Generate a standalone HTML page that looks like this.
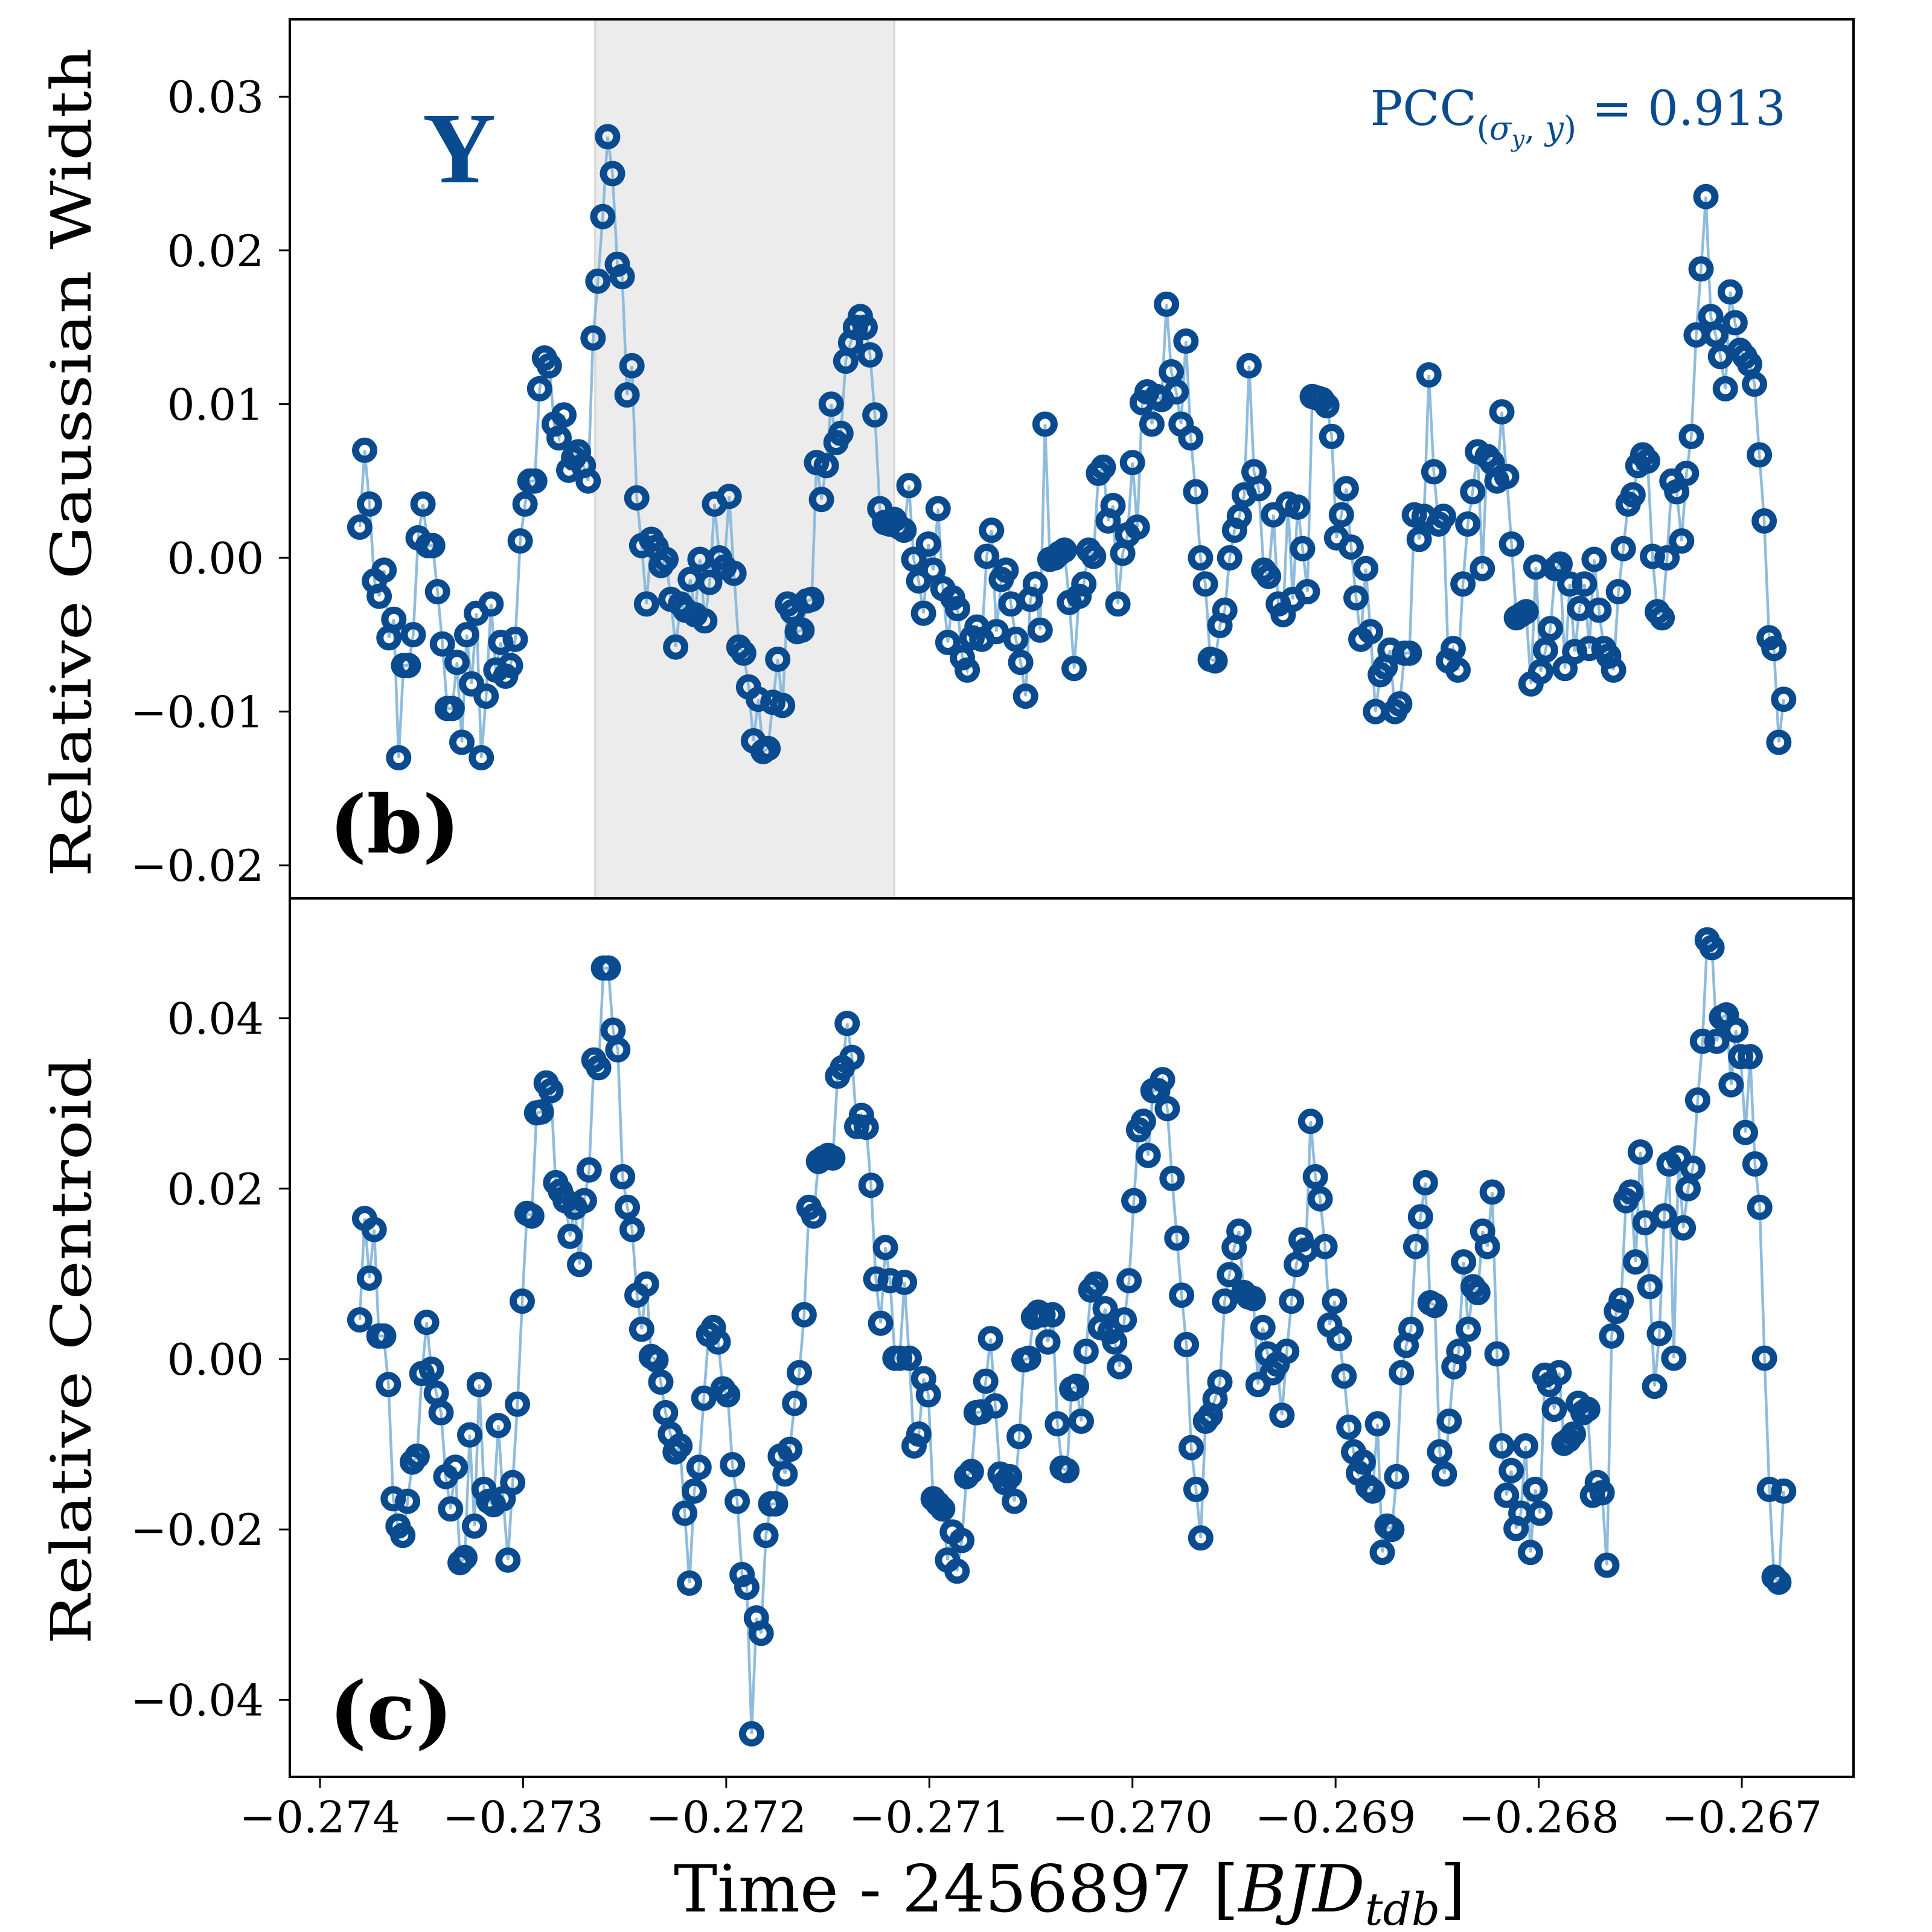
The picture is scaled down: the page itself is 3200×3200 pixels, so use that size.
<!DOCTYPE html>
<html><head><meta charset="utf-8"><style>
html,body{margin:0;padding:0;background:#fff}
svg{display:block}
text{font-family:"DejaVu Serif","Liberation Serif",serif}
</style></head><body>
<svg id="chart" width="3200" height="3200" viewBox="0 0 3200 3200" xmlns="http://www.w3.org/2000/svg">
<rect width="3200" height="3200" fill="#fff"/>
<rect x="986" y="32" width="495" height="1456" fill="#ececec" stroke="#dcdcdc" stroke-width="4"/>
<g id="top-series"></g>
<g id="bot-series"></g>
<rect x="480" y="32" width="2590" height="1456" fill="none" stroke="#000" stroke-width="4"/>
<rect x="480" y="1488" width="2590" height="1455" fill="none" stroke="#000" stroke-width="4"/>
<g id="axes"></g>
<text transform="translate(150,766) rotate(-90)" text-anchor="middle" font-size="92" textLength="1373" lengthAdjust="spacingAndGlyphs">Relative Gaussian Width</text>
<text transform="translate(150,2237) rotate(-90)" text-anchor="middle" font-size="92" textLength="973" lengthAdjust="spacingAndGlyphs">Relative Centroid</text>
<text x="1116" y="3166" font-size="108">Time - 2456897 [<tspan font-style="italic">BJD</tspan><tspan font-style="italic" font-size="74" dy="22">tdb</tspan><tspan dy="-22">]</tspan></text>
<text x="545" y="1412" font-size="132" font-weight="bold">(b)</text>
<text x="545" y="2880" font-size="132" font-weight="bold">(c)</text>
<text x="700" y="302" font-size="168" font-weight="bold" fill="#0a4a8f" style="font-family:'Liberation Serif',serif">Y</text>
<text x="2958" y="207" text-anchor="end" font-size="80" fill="#0a4a8f">PCC<tspan font-size="54" dy="24">(<tspan font-style="italic">σ</tspan><tspan font-size="38" font-style="italic" dy="12">y</tspan><tspan dy="-12">, </tspan><tspan font-style="italic">y</tspan>)</tspan><tspan dy="-24"> = 0.913</tspan></text>
</svg>
<script>
const tStart = -0.273804, tEnd = -0.266794;
const xTicks = [-0.274,-0.273,-0.272,-0.271,-0.270,-0.269,-0.268,-0.267];
const xTickLabels = ["−0.274","−0.273","−0.272","−0.271","−0.270","−0.269","−0.268","−0.267"];
const topTicks = [0.03,0.02,0.01,0.00,-0.01,-0.02];
const topTickLabels = ["0.03","0.02","0.01","0.00","−0.01","−0.02"];
const botTicks = [0.04,0.02,0.00,-0.02,-0.04];
const botTickLabels = ["0.04","0.02","0.00","−0.02","−0.04"];
const widthValues = [0.002,0.007,0.0035,-0.0015,-0.0025,-0.0008,-0.0052,-0.004,-0.013,-0.007,-0.007,-0.005,0.0013,0.0035,0.0008,0.0008,-0.0022,-0.0056,-0.0098,-0.0098,-0.0068,-0.012,-0.005,-0.0082,-0.0036,-0.013,-0.009,-0.003,-0.0073,-0.0055,-0.0077,-0.007,-0.0053,0.0011,0.0035,0.005,0.005,0.011,0.013,0.0125,0.0087,0.0078,0.0093,0.0057,0.0065,0.0069,0.006,0.005,0.0143,0.018,0.0222,0.0274,0.025,0.0191,0.0183,0.0106,0.0125,0.0039,0.0008,-0.003,0.0012,0.0007,-0.0005,-0.0001,-0.0027,-0.0058,-0.003,-0.0034,-0.0014,-0.0037,-0.0001,-0.0041,-0.0016,0.0035,0,-0.0006,0.004,-0.001,-0.0058,-0.0062,-0.0084,-0.0119,-0.0092,-0.0126,-0.0124,-0.0094,-0.0066,-0.0096,-0.003,-0.0035,-0.0048,-0.0047,-0.0028,-0.0027,0.0062,0.0038,0.006,0.01,0.0075,0.0081,0.0128,0.014,0.015,0.0157,0.015,0.0132,0.0093,0.0032,0.0023,0.0022,0.0025,0.002,0.0018,0.0047,-0.0001,-0.0015,-0.0036,0.0009,-0.0008,0.0032,-0.002,-0.0055,-0.0026,-0.0033,-0.0065,-0.0073,-0.0052,-0.0045,-0.0053,0.0001,0.0018,-0.0048,-0.0014,-0.0008,-0.003,-0.0053,-0.0068,-0.009,-0.0027,-0.0017,-0.0047,0.0087,-0.0001,0,0.0003,0.0005,-0.0029,-0.0072,-0.0025,-0.0017,0.0005,0.0001,0.0055,0.0059,0.0024,0.0034,-0.003,0.0003,0.0015,0.0062,0.002,0.0101,0.0108,0.0087,0.0105,0.0103,0.0165,0.0121,0.0108,0.0087,0.0141,0.0078,0.0043,0,-0.0017,-0.0066,-0.0067,-0.0044,-0.0034,0,0.0018,0.0027,0.0041,0.0125,0.0056,0.0045,-0.0008,-0.0012,0.0028,-0.003,-0.0037,0.0035,-0.0027,0.0033,0.0006,-0.0022,0.0105,0.0104,0.0103,0.0099,0.0079,0.0013,0.0028,0.0045,0.0007,-0.0026,-0.0053,-0.0007,-0.0048,-0.01,-0.0076,-0.0071,-0.006,-0.01,-0.0095,-0.0062,-0.0062,0.0028,0.0012,0.0027,0.0119,0.0056,0.0022,0.0027,-0.0067,-0.0059,-0.0073,-0.0017,0.0022,0.0043,0.0069,-0.0007,0.0066,0.0062,0.005,0.0095,0.0053,0.0009,-0.0039,-0.0037,-0.0035,-0.0082,-0.0006,-0.0074,-0.006,-0.0046,-0.0007,-0.0004,-0.0072,-0.0017,-0.0061,-0.0033,-0.0017,-0.0059,-0.0001,-0.0034,-0.0059,-0.0064,-0.0073,-0.0022,0.0006,0.0035,0.0041,0.006,0.0067,0.0063,0.0001,-0.0035,-0.0039,0,0.005,0.0043,0.0011,0.0055,0.0079,0.0145,0.0188,0.0235,0.0157,0.0145,0.0131,0.011,0.0173,0.0153,0.0135,0.0131,0.0126,0.0113,0.0067,0.0024,-0.0052,-0.0059,-0.012,-0.0092];
const centroidValues = [0.0046,0.0165,0.0095,0.0152,0.0027,0.0027,-0.003,-0.0164,-0.0196,-0.0207,-0.0167,-0.0121,-0.0114,-0.0017,0.0043,-0.0012,-0.004,-0.0063,-0.0138,-0.0176,-0.0127,-0.0239,-0.0233,-0.0089,-0.0196,-0.003,-0.0153,-0.0167,-0.0171,-0.0078,-0.0164,-0.0236,-0.0145,-0.0053,0.0068,0.0171,0.0168,0.0289,0.029,0.0324,0.0315,0.0207,0.0197,0.0186,0.0144,0.0178,0.0111,0.0186,0.0222,0.0351,0.0342,0.0459,0.0459,0.0386,0.0363,0.0214,0.0178,0.0152,0.0075,0.0035,0.0088,0.0003,-0.0001,-0.0027,-0.0063,-0.0088,-0.0109,-0.0102,-0.0181,-0.0263,-0.0155,-0.0127,-0.0046,0.0029,0.0037,0.002,-0.0035,-0.0042,-0.0124,-0.0167,-0.0253,-0.0268,-0.044,-0.0304,-0.0322,-0.0207,-0.017,-0.017,-0.0114,-0.0135,-0.0106,-0.0052,-0.0016,0.0052,0.0178,0.0168,0.0232,0.0236,0.0239,0.0236,0.0332,0.0342,0.0394,0.0354,0.0273,0.0286,0.0272,0.0204,0.0094,0.0042,0.0131,0.0092,0.0001,0.0001,0.009,0.0001,-0.0102,-0.0088,-0.0023,-0.0042,-0.0164,-0.017,-0.0176,-0.0236,-0.0203,-0.0249,-0.0213,-0.0138,-0.0132,-0.0063,-0.0062,-0.0026,0.0024,-0.0055,-0.0135,-0.0145,-0.0138,-0.0167,-0.0091,-0.0001,0.0001,0.0049,0.0055,0.0052,0.002,0.0052,-0.0076,-0.0128,-0.0131,-0.0035,-0.0032,-0.0073,0.0009,0.0081,0.0088,0.0037,0.0059,0.0032,0.002,-0.0009,0.0046,0.0092,0.0186,0.0269,0.0279,0.0239,0.0315,0.0315,0.0328,0.0294,0.0212,0.0142,0.0075,0.0017,-0.0104,-0.0153,-0.021,-0.0073,-0.0066,-0.0047,-0.0027,0.0068,0.0099,0.0131,0.015,0.0078,0.0073,0.0071,-0.003,0.0037,0.0006,-0.0016,-0.0006,-0.0066,0.0009,0.0068,0.0111,0.014,0.0128,0.0279,0.0214,0.0188,0.0132,0.004,0.0068,0.0024,-0.002,-0.008,-0.0109,-0.0134,-0.0121,-0.015,-0.0155,-0.0076,-0.0227,-0.0196,-0.02,-0.0138,-0.0016,0.0016,0.0035,0.0132,0.0167,0.0207,0.0066,0.0063,-0.0109,-0.0135,-0.0073,-0.0009,0.0009,0.0114,0.0035,0.0085,0.0078,0.015,0.0132,0.0196,0.0006,-0.0102,-0.016,-0.0131,-0.0199,-0.0181,-0.0102,-0.0227,-0.0153,-0.0181,-0.0019,-0.003,-0.0059,-0.0016,-0.0099,-0.0095,-0.0088,-0.0052,-0.0063,-0.0059,-0.016,-0.0145,-0.0157,-0.0242,0.0027,0.0056,0.0069,0.0186,0.0196,0.0114,0.0243,0.016,0.0085,-0.0032,0.003,0.0168,0.0229,0.0001,0.0236,0.0154,0.02,0.0224,0.0304,0.0373,0.0492,0.0483,0.0373,0.0401,0.0404,0.0322,0.0386,0.0355,0.0266,0.0355,0.0229,0.0178,0.0001,-0.0153,-0.0256,-0.0262,-0.0155];

const NS = "http://www.w3.org/2000/svg";
function xScale(t){ return 530 + (t + 0.274) / 0.007 * 2355; }
function yTop(v){ return 924 - v / 0.01 * 254.6; }
function yBot(v){ return 2251 - v / 0.01 * 141.1; }
function times(n){ const a=[]; for(let i=0;i<n;i++) a.push(tStart + (tEnd - tStart) * i / (n - 1)); return a; }
function mk(tag, parent){ const e=document.createElementNS(NS, tag); parent.appendChild(e); return e; }

function drawSeries(gid, vals, yf, nm){
  const g = document.getElementById(gid);
  const ts = times(vals.length);
  const pts = vals.map((v,i)=> xScale(ts[i]).toFixed(1)+","+yf(v).toFixed(1)).join(" ");
  const pl = mk("polyline", g);
  pl.setAttribute("points", pts);
  pl.setAttribute("fill","none"); pl.setAttribute("stroke","#8fbcdc"); pl.setAttribute("stroke-width","4.5");
  
  
  vals.forEach((v,i)=>{
    const c = mk("circle", g);
    c.setAttribute("cx", xScale(ts[i]).toFixed(1));
    c.setAttribute("cy", yf(v).toFixed(1));
    c.setAttribute("r","15"); c.setAttribute("fill","none");
    c.setAttribute("stroke","#0a4a8f"); c.setAttribute("stroke-width","12");
    
    
  });
}
drawSeries("top-series", widthValues, yTop, "gaussian-width");
drawSeries("bot-series", centroidValues, yBot, "centroid");

const ax = document.getElementById("axes");
xTicks.forEach((t,i)=>{
  const x = xScale(t);
  const l = mk("line", ax);
  l.setAttribute("x1",x); l.setAttribute("x2",x); l.setAttribute("y1",2943); l.setAttribute("y2",2961);
  l.setAttribute("stroke","#000"); l.setAttribute("stroke-width","3");
  
  
  const tx = mk("text", ax);
  tx.setAttribute("x",x); tx.setAttribute("y",3035); tx.setAttribute("text-anchor","middle"); tx.setAttribute("font-size","72");
  tx.textContent = xTickLabels[i];
  
  
});
function yTicks(ticks, labels, yf){
  ticks.forEach((v,i)=>{
    const y = yf(v);
    const l = mk("line", ax);
    l.setAttribute("x1",462); l.setAttribute("x2",480); l.setAttribute("y1",y); l.setAttribute("y2",y);
    l.setAttribute("stroke","#000"); l.setAttribute("stroke-width","3");
    
    
    const tx = mk("text", ax);
    tx.setAttribute("x",437); tx.setAttribute("y",y+26); tx.setAttribute("text-anchor","end"); tx.setAttribute("font-size","72");
    tx.textContent = labels[i];
    
    
  });
}
yTicks(topTicks, topTickLabels, yTop);
yTicks(botTicks, botTickLabels, yBot);
</script>
</body></html>
